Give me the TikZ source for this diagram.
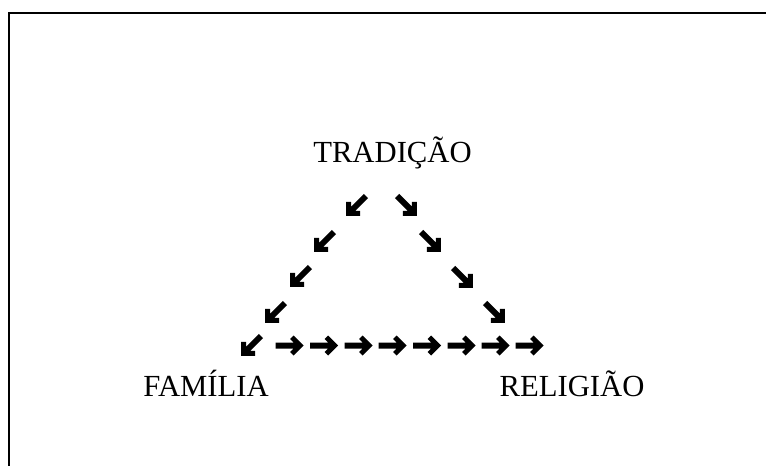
\documentclass[tikz,border=0pt]{standalone}
\usepackage{fontspec}
\setmainfont{Liberation Serif}
\tikzset{
  warrow/.pic={\fill (14,0) -- (4,10) -- (0.5,6.5) -- (4,3) -- (-14,3) -- (-14,-3) -- (4,-3) -- (0.5,-6.5) -- (4,-10) -- cycle;},
  word/.style={anchor=base, inner sep=0pt, font=\fontsize{23}{27}\selectfont}
}
\begin{document}
\begin{tikzpicture}[x=0.75pt, y=-0.75pt]

        \useasboundingbox (0,0) rectangle (766,466);
        \draw[line width=1.5pt] (9,466) -- (9,13) -- (766,13);

        \node(TRA)[word] at (392.5,163) {TRADIÇÃO};
        \node(FAM)[word] at (206,396) {FAMÍLIA};
        \node(REL)[word] at (572,396) {RELIGIÃO};

        % left side:
        \pic(L1)[rotate=-135] at (356,206) {warrow};
        \pic(L2)[rotate=-135] at (324,242) {warrow};
        \pic(L3)[rotate=-135] at (300,277) {warrow};
        \pic(L4)[rotate=-135] at (275,313) {warrow};
        \pic(L5)[rotate=-135] at (251,346) {warrow};

        % right side:
        \pic(R1)[rotate=-45] at (407,206) {warrow};
        \pic(R2)[rotate=-45] at (431,242) {warrow};
        \pic(R3)[rotate=-45] at (463,278) {warrow};
        \pic(R4)[rotate=-45] at (495,313) {warrow};

        % bottom:
        \pic(B1) at (289.5,345.5) {warrow};
        \pic(B2) at (324,345.5) {warrow};
        \pic(B3) at (358.5,345.5) {warrow};
        \pic(B4) at (392.5,345.5) {warrow};
        \pic(B5) at (427,345.5) {warrow};
        \pic(B6) at (461.5,345.5) {warrow};
        \pic(B7) at (495.5,345.5) {warrow};
        \pic(B8) at (529.5,345.5) {warrow};

    \end{tikzpicture}
\end{document}
